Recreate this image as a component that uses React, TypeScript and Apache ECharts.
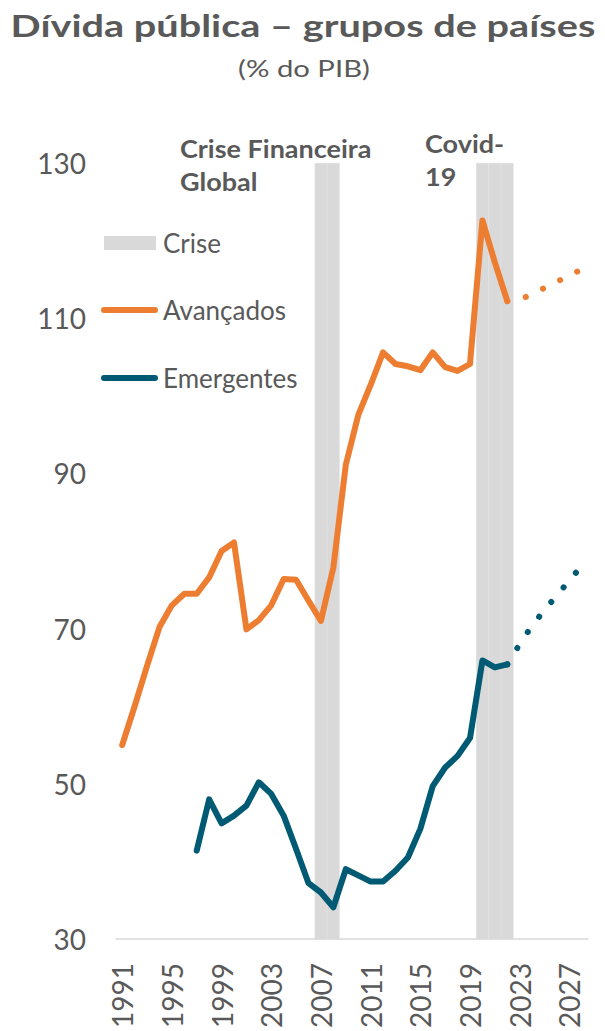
import React, { useEffect, useRef } from 'react';
import * as echarts from 'echarts';

const years = [
  '1991', '1992', '1993', '1994', '1995', '1996', '1997', '1998', '1999', '2000',
  '2001', '2002', '2003', '2004', '2005', '2006', '2007', '2008', '2009', '2010',
  '2011', '2012', '2013', '2014', '2015', '2016', '2017', '2018', '2019', '2020',
  '2021', '2022', '2023', '2024', '2025', '2026', '2027', '2028',
];

const yTicks = [30, 50, 70, 90, 110, 130];

// Crisis shading (years)
const criseYears = ['2007', '2008', '2020', '2021', '2022'];

// Avançados 1991-2022 (observed)
const avancadosStart = 1991;
const avancados = [
  55.0, 60.0, 65.2, 70.2, 73.0, 74.5, 74.5, 76.6, 80.0, 81.1,
  69.9, 71.1, 73.0, 76.4, 76.3, 73.6, 71.0, 77.9, 91.1, 97.5,
  101.4, 105.6, 104.1, 103.8, 103.3, 105.6, 103.7, 103.2, 104.1, 122.6,
  117.2, 112.2,
];
// Avançados 2022-2028 (projection)
const avancadosProjStart = 2022;
const avancadosProj = [112.2, 112.4, 113.1, 113.9, 114.7, 115.5, 116.3];

// Emergentes 1997-2022 (observed)
const emergentesStart = 1997;
const emergentes = [
  41.4, 48.0, 44.9, 45.9, 47.2, 50.2, 48.7, 45.9, 41.6, 37.2,
  36.0, 34.1, 39.0, 38.2, 37.4, 37.4, 38.8, 40.5, 44.2, 49.7,
  52.1, 53.6, 55.9, 65.9, 65.0, 65.4,
];
// Emergentes 2022-2028 (projection)
const emergentesProjStart = 2022;
const emergentesProj = [65.4, 68.0, 70.4, 72.4, 74.3, 76.2, 78.1];

const ORANGE = '#ed7d31';
const TEAL = '#005a74';
const GRAY = '#d9d9d9';
const TEXT = '#595959';
const FONT = 'Lato, "Open Sans", sans-serif';

function toPairs(start: number, vals: number[]) {
  return vals.map((v, i) => [String(start + i), v]);
}

export default function App() {
  const ref = useRef<HTMLDivElement>(null);

  useEffect(() => {
    if (!ref.current) return;
    const chart = echarts.init(ref.current, undefined, { renderer: 'svg' });
    const yMin = yTicks[0];
    const yMax = yTicks[yTicks.length - 1];
    const linePath = 'path://M3 0H54A3 3 0 0 1 54 6H3A3 3 0 0 1 3 0Z';

    const annot = (text: string, x: number, y: number) => ({
      type: 'text',
      x,
      y,
      scaleX: 1.08,
      style: {
        text,
        font: `bold 25px ${FONT}`,
        fill: TEXT,
        textAlign: 'left',
        textVerticalAlign: 'middle',
      },
    });

    chart.setOption({
      animation: false,
      backgroundColor: '#ffffff',
      textStyle: { fontFamily: FONT },
      grid: { left: 116, right: 17, top: 163, bottom: 87, containLabel: false },
      xAxis: {
        type: 'category',
        data: years,
        boundaryGap: true,
        axisLine: { show: true, lineStyle: { color: GRAY, width: 1.5 } },
        axisTick: { show: false },
        axisLabel: {
          interval: 3,
          rotate: 90,
          margin: 24,
          fontSize: 28,
          color: TEXT,
          fontFamily: FONT,
        },
        splitLine: { show: false },
      },
      yAxis: {
        type: 'value',
        min: yMin,
        max: yMax,
        interval: 20,
        axisLine: { show: false },
        axisTick: { show: false },
        splitLine: { show: false },
        axisLabel: { fontSize: 28, color: TEXT, margin: 30, fontFamily: FONT },
      },
      legend: [
        {
          data: ['Crise'],
          left: 104,
          top: 226,
          padding: 0,
          icon: 'rect',
          itemWidth: 52,
          itemHeight: 14,
          itemGap: 0,
          itemStyle: { borderWidth: 0 },
          textStyle: { fontSize: 26, color: TEXT, fontFamily: FONT, lineHeight: 30, padding: [4, 0, 0, 2] },
          selectedMode: false,
        },
        {
          data: ['Avançados'],
          left: 101,
          top: 293,
          padding: 0,
          icon: linePath,
          itemWidth: 57,
          itemHeight: 6,
          itemStyle: { borderWidth: 0 },
          textStyle: { fontSize: 26, color: TEXT, fontFamily: FONT, lineHeight: 30, padding: [4, 0, 0, 0] },
          selectedMode: false,
        },
        {
          data: ['Emergentes'],
          left: 101,
          top: 361,
          padding: 0,
          icon: linePath,
          itemWidth: 57,
          itemHeight: 6,
          itemStyle: { borderWidth: 0 },
          textStyle: { fontSize: 26, color: TEXT, fontFamily: FONT, lineHeight: 30, padding: [4, 0, 0, 0] },
          selectedMode: false,
        },
      ],
      graphic: [
        {
          type: 'text',
          x: 303,
          y: 25,
          scaleX: 1.28,
          style: {
            text: 'Dívida pública – grupos de países',
            font: `bold 31px ${FONT}`,
            fill: TEXT,
            textAlign: 'center',
            textVerticalAlign: 'middle',
          },
        },
        {
          type: 'text',
          x: 304,
          y: 68,
          scaleX: 1.22,
          style: {
            text: '(% do PIB)',
            font: `24px ${FONT}`,
            fill: TEXT,
            textAlign: 'center',
            textVerticalAlign: 'middle',
          },
        },
        annot('Crise Financeira', 180, 148),
        annot('Global', 180, 181),
        annot('Covid-', 425, 143),
        annot('19', 425, 176),
      ],
      series: [
        {
          name: 'Crise',
          type: 'bar',
          data: years.map((y) => (criseYears.includes(y) ? yMax : '-')),
          barCategoryGap: '0%',
          barGap: '0%',
          itemStyle: { color: GRAY, borderColor: GRAY, borderWidth: 0.8 },
          clip: true,
          z: 1,
          silent: true,
        },
        {
          name: 'Avançados',
          type: 'line',
          data: toPairs(avancadosStart, avancados),
          showSymbol: false,
          symbol: 'none',
          color: ORANGE,
          lineStyle: { color: ORANGE, width: 6, cap: 'round', join: 'round' },
          z: 3,
        },
        {
          name: 'AvançadosProj',
          type: 'line',
          data: toPairs(avancadosProjStart, avancadosProj),
          showSymbol: false,
          symbol: 'none',
          color: ORANGE,
          lineStyle: { color: ORANGE, width: 6, type: [0.1, 19], cap: 'round', join: 'round' },
          z: 3,
        },
        {
          name: 'Emergentes',
          type: 'line',
          data: toPairs(emergentesStart, emergentes),
          showSymbol: false,
          symbol: 'none',
          color: TEAL,
          lineStyle: { color: TEAL, width: 6, cap: 'round', join: 'round' },
          z: 3,
        },
        {
          name: 'EmergentesProj',
          type: 'line',
          data: toPairs(emergentesProjStart, emergentesProj),
          showSymbol: false,
          symbol: 'none',
          color: TEAL,
          lineStyle: { color: TEAL, width: 6, type: [0.1, 19], cap: 'round', join: 'round' },
          z: 3,
        },
      ],
    });

    return () => {
      chart.dispose();
    };
  }, []);

  return <div ref={ref} style={{ width: 605, height: 1031, position: 'absolute', left: 0, top: 0 }} />;
}
